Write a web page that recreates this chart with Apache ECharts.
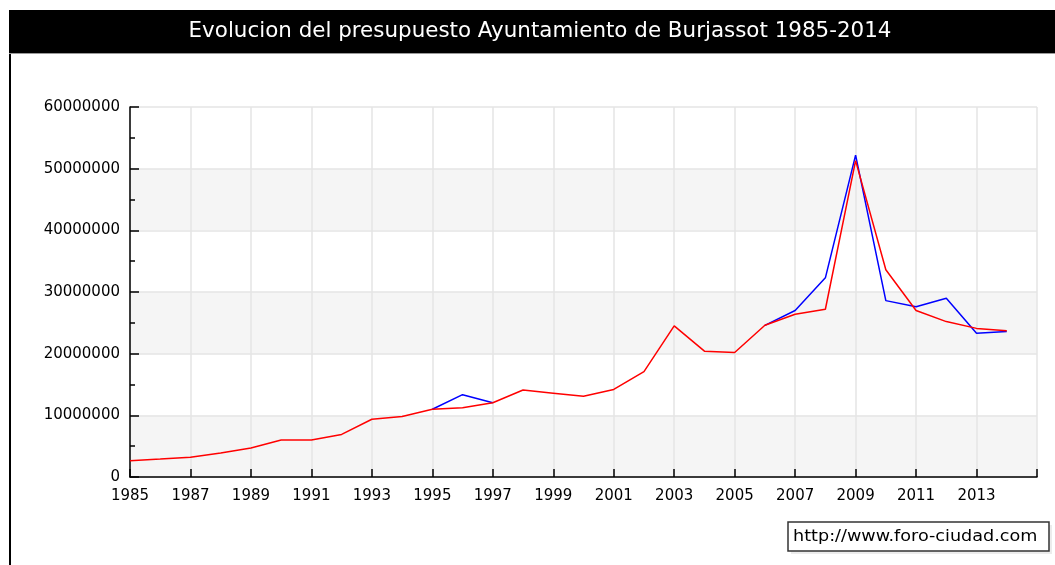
<!DOCTYPE html>
<html>
<head>
<meta charset="utf-8">
<script src="https://cdn.jsdelivr.net/npm/echarts@6/dist/echarts.min.js"></script>
<style>
html,body{margin:0;padding:0;background:#fff;}
#c{width:1055px;height:565px;}
</style>
</head>
<body>
<div id="c"></div>
<script>
var titleText = 'Evolucion del presupuesto Ayuntamiento de Burjassot 1985-2014';
var watermarkText = 'http://www.foro-ciudad.com';
var years = ['1985','1986','1987','1988','1989','1990','1991','1992','1993','1994','1995','1996','1997','1998','1999','2000','2001','2002','2003','2004','2005','2006','2007','2008','2009','2010','2011','2012','2013','2014','2015'];
var redValues = [2640000,2900000,3200000,3900000,4700000,6000000,6000000,6900000,9360000,9800000,10980000,11240000,12050000,14100000,13600000,13100000,14200000,17100000,24500000,20400000,20200000,24600000,26400000,27200000,51300000,33600000,27000000,25200000,24100000,23700000,null];
// blue values where they differ from red (identical years 1998-2005 are hidden under red in the reference)
var blueValues = [null,null,null,null,null,null,null,null,null,null,10980000,13350000,12050000,null,null,null,null,null,null,null,null,24600000,27000000,32300000,52200000,28600000,27600000,29000000,23300000,23600000,null];
var yTicks = [0,10000000,20000000,30000000,40000000,50000000,60000000];

var chart = echarts.init(document.getElementById('c'), null, {renderer:'canvas'});
var font = 'DejaVu Sans';
chart.setOption({
  animation:false,
  backgroundColor:'#ffffff',
  grid:{left:130,right:18,top:107,bottom:88,containLabel:false},
  xAxis:{
    type:'category',
    data:years,
    boundaryGap:false,
    axisLine:{show:true,lineStyle:{color:'#000',width:1.5}},
    axisTick:{show:true,inside:true,length:8,interval:1,lineStyle:{color:'#000',width:1.5}},
    axisLabel:{interval:1,margin:12,color:'#000',fontFamily:font,fontSize:15,
      formatter:function(v){return v==='2015'?'':v;}},
    splitLine:{show:true,interval:1,lineStyle:{color:'#e4e4e4',width:1.5}}
  },
  yAxis:{
    type:'value',
    min:yTicks[0],max:yTicks[yTicks.length-1],interval:10000000,
    axisLine:{show:true,lineStyle:{color:'#000',width:1.5}},
    axisTick:{show:true,inside:true,length:9,lineStyle:{color:'#000',width:1.5}},
    minorTick:{show:true,splitNumber:2,length:5,lineStyle:{color:'#000',width:1.5}},
    axisLabel:{margin:10,color:'#000',fontFamily:font,fontSize:15,formatter:function(v){return String(v);}},
    splitLine:{show:true,lineStyle:{color:'#e4e4e4',width:1.5}},
    splitArea:{show:true,areaStyle:{color:['#f5f5f5','#ffffff']}}
  },
  series:[
    {type:'line',data:blueValues,showSymbol:false,symbol:'none',connectNulls:false,
     lineStyle:{color:'#0000ff',width:1.5},itemStyle:{color:'#0000ff'},z:2},
    {type:'line',data:redValues,showSymbol:false,symbol:'none',connectNulls:false,
     lineStyle:{color:'#ff0000',width:1.5},itemStyle:{color:'#ff0000'},z:3}
  ],
  graphic:[
    {type:'rect',shape:{x:9,y:10,width:1046,height:43},style:{fill:'#000'},z:10},
    {type:'rect',shape:{x:9,y:53,width:1046,height:1},style:{fill:'#9a9a9a'},z:10},
    {type:'rect',shape:{x:9,y:54,width:2,height:511},style:{fill:'#000'},z:10},
    {type:'text',x:540,y:32,scaleX:1.02,style:{text:titleText,fill:'#fff',font:'21px "DejaVu Sans"',textAlign:'center',textVerticalAlign:'middle'},z:11},
    {type:'rect',shape:{x:791,y:525,width:261,height:29},style:{fill:'#ececec'},z:10},
    {type:'rect',shape:{x:788,y:522,width:261,height:29},style:{fill:'#fff',stroke:'#333',lineWidth:1.5},z:11},
    {type:'text',x:793,y:537,scaleX:1.1,style:{text:watermarkText,fill:'#000',font:'16px "DejaVu Sans"',textAlign:'left',textVerticalAlign:'middle'},z:12}
  ]
});
</script>
</body>
</html>
